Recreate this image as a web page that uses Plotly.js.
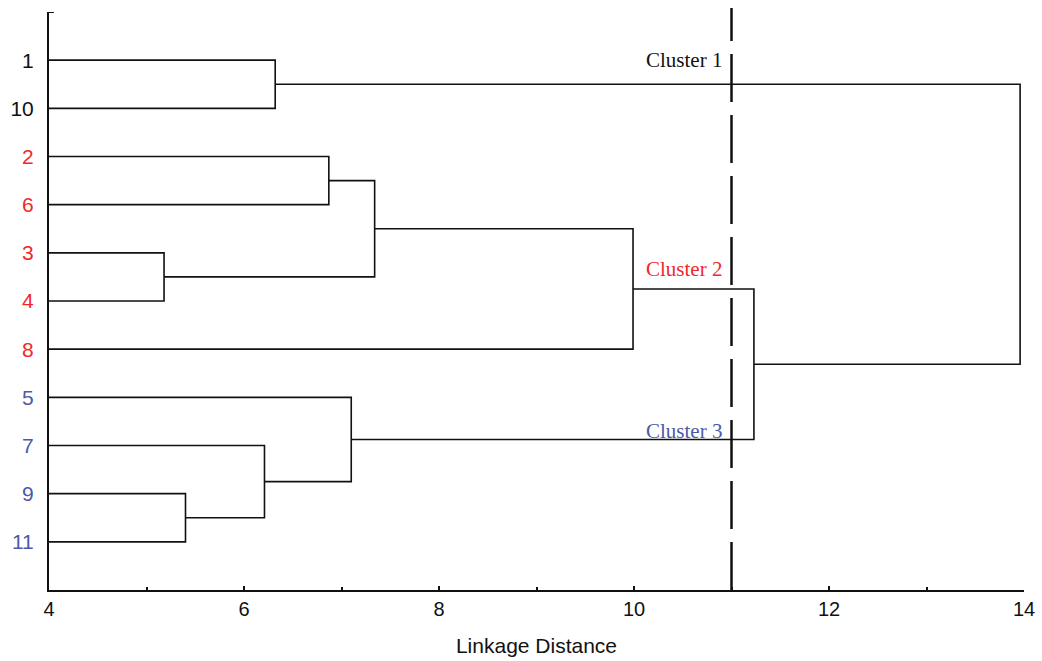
<!DOCTYPE html>
<html>
<head>
<meta charset="utf-8">
<script src="https://cdn.plot.ly/plotly-3.0.1.min.js"></script>
<style>html,body{margin:0;padding:0;background:#fff;}#chart{width:1042px;height:661px;}</style>
</head>
<body>
<div id="chart"></div>
<script>
// Leaf labels in drawing order (top to bottom)
const leafLabels = ['1', '10', '2', '6', '3', '4', '8', '5', '7', '9', '11'];
const leafCluster = [1, 1, 2, 2, 2, 2, 2, 3, 3, 3, 3];
// Merges: [node A, node B, linkage distance]; leaves 0..10, new nodes 11..
const mergeA = [0, 2, 4, 12, 14, 9, 8, 7, 15, 11];
const mergeB = [1, 3, 5, 13, 6, 10, 16, 17, 18, 19];
const mergeH = [6.32, 6.87, 5.18, 7.34, 9.99, 5.40, 6.21, 7.10, 11.23, 13.96];
const cutDistance = 11.0;
const clusterNames = ['Cluster 1', 'Cluster 2', 'Cluster 3'];
const clusterLabelY = [1, 5.34, 8.70];
const xMin = 4, xMax = 14;

const clusterColors = {1: '#111111', 2: '#f0282d', 3: '#4a5aa8'};

// node positions
const nodeX = [], nodeY = [];
leafLabels.forEach((l, i) => { nodeX.push(xMin); nodeY.push(i + 1); });
const lx = [], ly = [];
for (let k = 0; k < mergeA.length; k++) {
  const a = mergeA[k], b = mergeB[k], h = mergeH[k];
  lx.push(nodeX[a], h, h, nodeX[b], null);
  ly.push(nodeY[a], nodeY[a], nodeY[b], nodeY[b], null);
  nodeX.push(h);
  nodeY.push((nodeY[a] + nodeY[b]) / 2);
}

const traces = [{
  x: lx, y: ly, mode: 'lines', type: 'scatter',
  line: {color: '#111', width: 1.6}, hoverinfo: 'skip', showlegend: false
}];

const tickvals = leafLabels.map((l, i) => i + 1);
const ticktext = leafLabels.map((l, i) => '<span style="color:' + clusterColors[leafCluster[i]] + '">' + l + '</span>');

const annotations = clusterNames.map((n, i) => ({
  x: cutDistance - 0.08, y: clusterLabelY[i], xref: 'x', yref: 'y',
  text: n, showarrow: false, xanchor: 'right', yanchor: 'middle',
  font: {family: 'Liberation Serif, serif', size: 21, color: clusterColors[i + 1]}
}));

const layout = {
  width: 1042, height: 661,
  margin: {l: 49, r: 18, t: 12, b: 71},
  paper_bgcolor: '#fff', plot_bgcolor: '#fff',
  font: {family: 'Liberation Sans, Arial, sans-serif', size: 20, color: '#111'},
  xaxis: {
    range: [xMin, xMax], tickvals: [4, 6, 8, 10, 12, 14], ticks: 'inside', ticklen: 4, tickwidth: 2,
    tickcolor: '#111', showgrid: false, zeroline: false, showline: true, linecolor: '#111', linewidth: 2,
    minor: {tickvals: [5, 7, 9, 11, 13], ticks: 'inside', ticklen: 3, tickwidth: 2, tickcolor: '#111', showgrid: false},
    tickfont: {size: 20, color: '#111'}, ticklabelstandoff: 0,
    title: {text: 'Linkage Distance', font: {size: 21, color: '#111'}, standoff: 19}
  },
  yaxis: {
    range: [12, 0], tickvals: tickvals, ticktext: ticktext, ticks: '',
    showgrid: false, zeroline: false, showline: true, linecolor: '#111', linewidth: 2,
    tickfont: {size: 21}, ticklabelstandoff: 9
  },
  shapes: [
    {type: 'line', xref: 'x', yref: 'paper', x0: cutDistance, x1: cutDistance, y0: 0, y1: 1.007,
     line: {color: '#111', width: 2.5, dash: '48px,13px'}},
    {type: 'line', xref: 'x', yref: 'y', x0: xMin, x1: xMin + 0.05, y0: 0, y1: 0,
     line: {color: '#111', width: 2}}
  ],
  annotations: annotations
};

Plotly.newPlot('chart', traces, layout, {displayModeBar: false, staticPlot: true});
</script>
</body>
</html>
